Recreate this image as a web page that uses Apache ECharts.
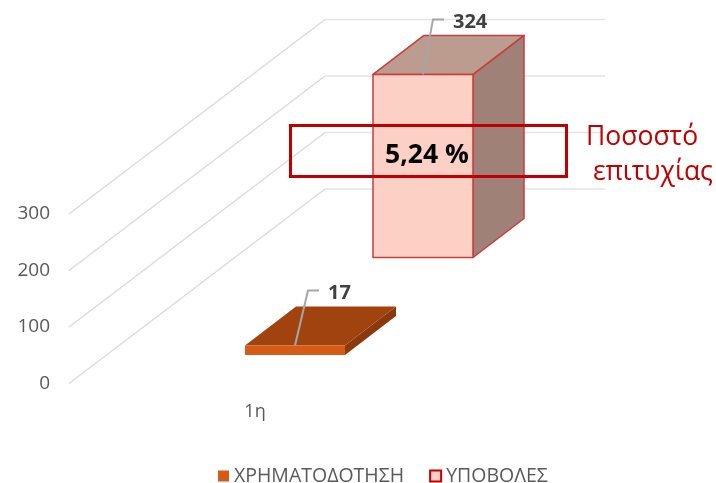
<!DOCTYPE html>
<html>
<head>
<meta charset="utf-8">
<style>html,body{margin:0;padding:0;background:#fff}#c{width:716px;height:483px}</style>
<script src="https://cdn.jsdelivr.net/npm/echarts@6/dist/echarts.min.js"></script>
</head>
<body>
<div id="c"></div>
<script>
const categories = ['1η'];
const funding = [17];
const submissions = [324];
const tickValues = [0, 100, 200, 300];
const fundingName = 'ΧΡΗΜΑΤΟΔΟΤΗΣΗ';
const submissionsName = 'ΥΠΟΒΟΛΕΣ';
const rateText = '5,24 %';
const rateCaption = 'Ποσοστό\n επιτυχίας';

const FONT = '"Open Sans", sans-serif';
const WALL_DX = 256, WALL_DY = -194.5, BACK_LEN = 280;
const DEPTH_DX = 51, DEPTH_DY = -39, BAR_W = 100;

function poly(points, style) {
  return { type: 'polygon', shape: { points }, style };
}
function wallRender(params, api) {
  const y = api.coord([0, api.value(0)])[1];
  const x = params.coordSys.x;
  return {
    type: 'group',
    silent: true,
    children: [
      { type: 'line', shape: { x1: x, y1: y, x2: x + WALL_DX, y2: y + WALL_DY },
        style: { stroke: '#d9d9d9', lineWidth: 1.2 } },
      { type: 'line', shape: { x1: x + WALL_DX, y1: y + WALL_DY, x2: x + WALL_DX + BACK_LEN, y2: y + WALL_DY },
        style: { stroke: '#e4e4e4', lineWidth: 1.6 } }
    ]
  };
}
function barRender(opts) {
  return function (params, api) {
    const x0 = params.coordSys.x + opts.offsetX;
    const base = api.coord([0, 0])[1] + opts.offsetY;
    const h = api.coord([0, 0])[1] - api.coord([0, api.value(1)])[1];
    const top = base - h;
    const x1 = x0 + BAR_W;
    const bx = DEPTH_DX, by = DEPTH_DY;
    const s = opts.stroke ? { stroke: opts.stroke, lineWidth: 1.5, lineJoin: 'round' } : {};
    const mx = x0 + BAR_W / 2;
    const labelY = top - 55;
    return {
      type: 'group',
      children: [
        poly([[x1, top], [x1 + bx, top + by], [x1 + bx, base + by], [x1, base]], Object.assign({ fill: opts.side }, s)),
        poly([[x0, top], [x0 + bx, top + by], [x1 + bx, top + by], [x1, top]], Object.assign({ fill: opts.topFace }, s)),
        { type: 'rect', shape: { x: x0, y: top, width: BAR_W, height: h }, style: Object.assign({ fill: opts.front }, s) },
        { type: 'polyline', shape: { points: [[mx, top], [mx + opts.leadDx, labelY], [mx + opts.leadDx + 11, labelY]] },
          style: { stroke: '#a6a6a6', lineWidth: 2, fill: 'none' } },
        { type: 'text', x: mx + opts.leadDx + 20, y: labelY + 2.5,
          style: { text: String(api.value(1)), fill: '#404040', font: 'bold 20px ' + FONT, textAlign: 'left', textVerticalAlign: 'middle' } }
      ]
    };
  };
}

const chart = echarts.init(document.getElementById('c'), null, { renderer: 'canvas' });
chart.setOption({
  animation: false,
  backgroundColor: '#fff',
  grid: { left: 69, top: 214, width: 372, height: 169.5 },
  legend: {
    data: [fundingName, submissionsName],
    left: 213, top: 461,
    icon: 'rect', itemWidth: 11, itemHeight: 11, itemGap: 25,
    textStyle: { color: '#595959', fontSize: 19.5, fontFamily: FONT }
  },
  xAxis: {
    type: 'category', data: categories,
    axisLine: { show: false }, axisTick: { show: false }, splitLine: { show: false },
    axisLabel: { color: '#595959', fontSize: 18, fontFamily: FONT, margin: 19 }
  },
  yAxis: {
    type: 'value', min: 0, max: 300, interval: 100,
    axisLine: { show: false }, axisTick: { show: false }, splitLine: { show: false },
    axisLabel: { color: '#595959', fontSize: 19, fontFamily: FONT, margin: 19 }
  },
  series: [
    { type: 'custom', silent: true, z: 1, data: tickValues.map(v => [v]), encode: { y: 0 },
      renderItem: wallRender, tooltip: { show: false } },
    { type: 'custom', name: fundingName, z: 2, data: funding.map((v, i) => [i, v]),
      encode: { x: 0, y: 1 },
      itemStyle: { color: '#d55b17' },
      renderItem: barRender({ offsetX: 176, offsetY: -28.5, front: '#d55b17', topFace: '#a0430f', side: '#8a390d', leadDx: 13 }) },
    { type: 'custom', name: submissionsName, z: 3, data: submissions.map((v, i) => [i, v]),
      encode: { x: 0, y: 1 },
      itemStyle: { color: '#fcd0c5', borderColor: '#c00000', borderWidth: 2 },
      renderItem: barRender({ offsetX: 304, offsetY: -126, front: '#fcd0c5', topFace: '#bd9c90', side: '#a08178', stroke: '#c83c3c', leadDx: 10 }) }
  ],
  graphic: [
    { type: 'rect', z: 100, shape: { x: 290.5, y: 125.5, width: 276, height: 51 },
      style: { fill: 'none', stroke: '#c00000', lineWidth: 3 } },
    { type: 'text', z: 101, x: 427, y: 155,
      style: { text: rateText, fill: '#000', font: 'bold 26.5px ' + FONT, textAlign: 'center', textVerticalAlign: 'middle' } },
    { type: 'text', z: 101, x: 586, y: 120,
      style: { text: rateCaption, fill: '#c00000', font: '26.5px ' + FONT, lineHeight: 35, textAlign: 'left' } }
  ]
});
</script>
</body>
</html>
